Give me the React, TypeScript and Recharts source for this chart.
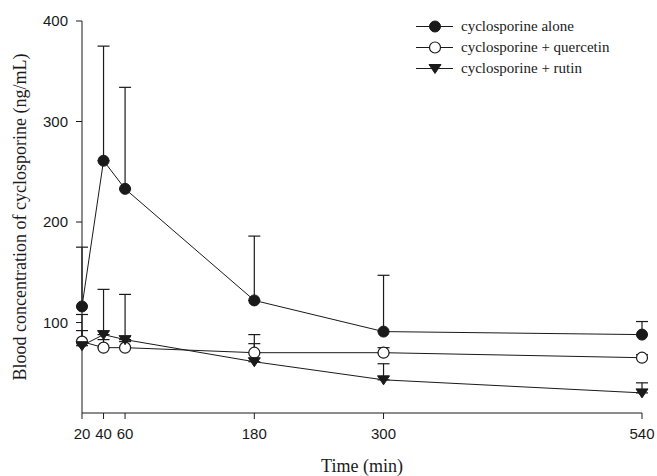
import React from 'react'
import { LineChart, Line, XAxis, YAxis, ErrorBar, Legend } from 'recharts'

const times = [20, 40, 60, 180, 300, 540]
const alone = [116, 261, 233, 122, 91, 88]
const aloneSd = [59, 114, 101, 64, 56, 13]
const quercetin = [81, 75, 75, 70, 70, 65]
const quercetinSd = [11, 8, 6, 18, 5, 3]
const rutin = [77, 88, 83, 61, 43, 30]
const rutinSd = [31, 45, 45, 18, 16, 10]
const seriesNames = ['cyclosporine alone', 'cyclosporine + quercetin', 'cyclosporine + rutin']
const xTicks = [20, 40, 60, 180, 300, 540]
const yTicks = [100, 200, 300, 400]

// error bars are one-sided (up only)
const data = times.map((t, i) => ({
  time: t,
  alone: alone[i],
  aloneErr: [0, aloneSd[i]],
  quercetin: quercetin[i],
  quercetinErr: [0, quercetinSd[i]],
  rutin: rutin[i],
  rutinErr: [0, rutinSd[i]],
}))

const INK = '#1a1a1a'
const SERIF = '"Liberation Serif", "DejaVu Serif", serif'
const SANS = '"Liberation Sans", Arial, sans-serif'

const Marker = ({ kind, cx, cy }: { kind: number; cx: number; cy: number }) => {
  if (kind === 0) return <circle cx={cx} cy={cy} r={5.5} fill={INK} stroke={INK} />
  if (kind === 1) return <circle cx={cx} cy={cy} r={5.5} fill="#fff" stroke={INK} strokeWidth={1.2} />
  return (
    <polygon
      points={`${cx - 6},${cy - 4} ${cx + 6},${cy - 4} ${cx},${cy + 5}`}
      fill={INK}
      stroke={INK}
    />
  )
}

const dotFor = (kind: number) => (p: any) =>
  <Marker key={`${kind}-${p.index}`} kind={kind} cx={p.cx} cy={p.cy} />

const LegendBox = () => (
  <div style={{ fontFamily: SERIF, fontSize: 15, color: INK }}>
    {seriesNames.map((name, i) => (
      <div key={name} style={{ display: 'flex', alignItems: 'center', height: 21 }}>
        <svg width={45} height={21}>
          <line x1={0} y1={10.5} x2={37} y2={10.5} stroke={INK} strokeWidth={1} />
          <Marker kind={i} cx={19} cy={10.5} />
        </svg>
        <span style={{ whiteSpace: 'nowrap' }}>{name}</span>
      </div>
    ))}
  </div>
)

export default function App() {
  return (
    <div style={{ position: 'absolute', left: 0, top: 0 }}>
      <LineChart
        width={657}
        height={476}
        data={data}
        margin={{ top: 21, right: 15, bottom: 0, left: 0 }}
      >
        <XAxis
          dataKey="time"
          type="number"
          domain={[20, 540]}
          ticks={xTicks}
          interval={0}
          height={63}
          stroke={INK}
          tickSize={6}
          tickMargin={9}
          tick={{ fill: INK, fontFamily: SANS, fontSize: 15 }}
          label={{
            value: 'Time (min)',
            position: 'insideBottom',
            offset: 4,
            style: { fill: INK, fontFamily: SERIF, fontSize: 18 },
          }}
        />
        <YAxis
          type="number"
          domain={[10, 400]}
          ticks={yTicks}
          width={82}
          stroke={INK}
          tickSize={6}
          tickMargin={8}
          tick={{ fill: INK, fontFamily: SANS, fontSize: 15 }}
          label={{
            value: 'Blood concentration of cyclosporine (ng/mL)',
            angle: -90,
            position: 'insideLeft',
            offset: 20,
            style: { fill: INK, fontFamily: SERIF, fontSize: 18, textAnchor: 'middle' },
          }}
        />
        <Legend
          layout="horizontal"
          verticalAlign="middle"
          align="center"
          content={() => <LegendBox />}
          wrapperStyle={{ position: 'absolute', left: 416, top: 16, width: 240 }}
        />
        <Line
          dataKey="alone"
          stroke={INK}
          strokeWidth={1}
          dot={dotFor(0)}
          isAnimationActive={false}
        >
          <ErrorBar dataKey="aloneErr" width={6} stroke={INK} strokeWidth={1.2} />
        </Line>
        <Line
          dataKey="quercetin"
          stroke={INK}
          strokeWidth={1}
          dot={dotFor(1)}
          isAnimationActive={false}
        >
          <ErrorBar dataKey="quercetinErr" width={6} stroke={INK} strokeWidth={1.2} />
        </Line>
        <Line
          dataKey="rutin"
          stroke={INK}
          strokeWidth={1}
          dot={dotFor(2)}
          isAnimationActive={false}
        >
          <ErrorBar dataKey="rutinErr" width={6} stroke={INK} strokeWidth={1.2} />
        </Line>
      </LineChart>
    </div>
  )
}
